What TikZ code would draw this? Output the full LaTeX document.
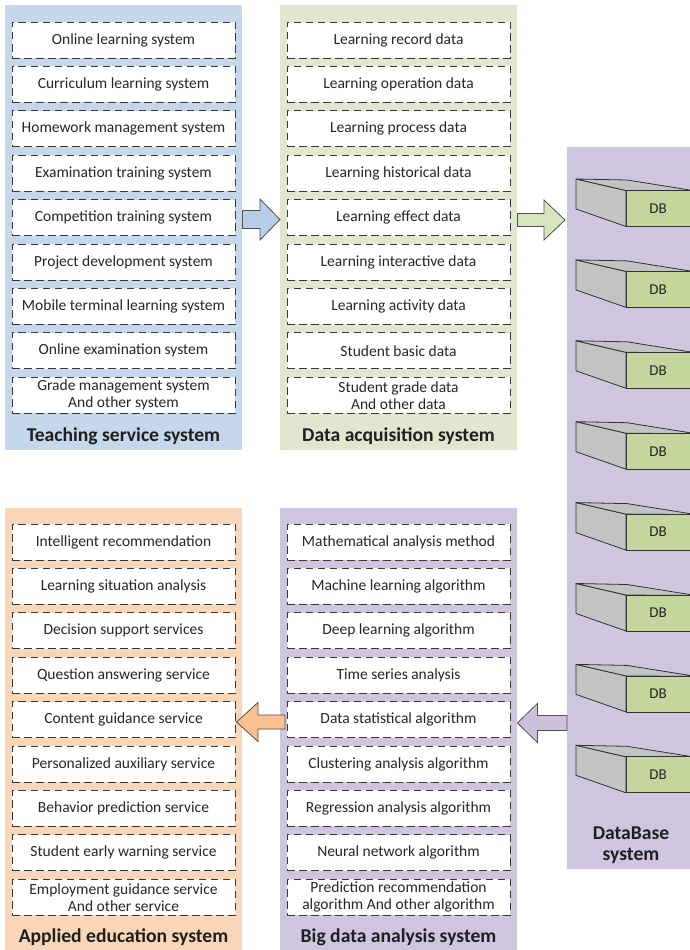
\documentclass[tikz,border=0pt]{standalone}
\usepackage{fontspec}
\setmainfont{Carlito}
\usetikzlibrary{calc}

\definecolor{panelblue}{RGB}{197,215,234}
\definecolor{panelgreen}{RGB}{225,231,206}
\definecolor{panelpurple}{RGB}{206,198,223}
\definecolor{panelorange}{RGB}{249,214,184}
\definecolor{arrowblue}{RGB}{185,205,229}
\definecolor{arrowgreen}{RGB}{215,228,189}
\definecolor{arroworange}{RGB}{250,192,144}
\definecolor{arrowpurple}{RGB}{204,193,218}
\definecolor{arrowline}{RGB}{80,80,80}
\definecolor{itemline}{RGB}{55,55,55}
\definecolor{txt}{RGB}{38,38,38}
\definecolor{dbgray}{RGB}{194,196,196}
\definecolor{dbgreen}{RGB}{196,214,155}
\definecolor{dbline}{RGB}{50,50,50}

\tikzset{
  panel/.style={draw=none, inner sep=0, anchor=north west},
  item/.style={draw=itemline, line width=0.9pt, dash pattern=on 7.5pt off 4.5pt,
    fill=white, minimum width=223, minimum height=36, inner sep=0, align=center,
    text=txt, font=\fontsize{15.5}{17}\selectfont},
  caption/.style={font=\bfseries\fontsize{19.6}{21}\selectfont, text=black!88, align=center},
  blockarrow/.style={fill=#1, draw=arrowline, line width=0.8pt, line join=miter},
  dbface/.style={draw=dbline, line width=0.8pt, line join=round},
  dbtext/.style={text=txt, font=\fontsize{15}{17}\selectfont, inner sep=0},
  dbunit/.pic={
    % side face
    \path[dbface, fill=dbgray] (-50,-29.5) -- (0,-18) -- (0,18) -- (-50,0.5) -- cycle;
    % top face
    \path[dbface, fill=dbgray] (-50,-29.5) -- (1,-28.5) -- (70,-17.5) -- (0,-18) -- cycle;
    % front face
    \path[dbface, fill=dbgreen] (0,-18) rectangle (90,18);
    \node[dbtext] (-lbl) at (32,0) {DB};
  }
}

% block arrow: style colour, tail point, tip point, body half-height, head half-height, signed head length
\newcommand\flowarrow[6]{%
  \path[blockarrow=#1] let \p1=(#2), \p2=(#3) in
    (\x1,{\y2+(#4pt)}) -- ({\x2-(#6pt)},{\y2+(#4pt)}) -- ({\x2-(#6pt)},{\y2+(#5pt)})
    -- (\x2,\y2) -- ({\x2-(#6pt)},{\y2-(#5pt)}) -- ({\x2-(#6pt)},{\y2-(#4pt)})
    -- (\x1,{\y2-(#4pt)}) -- cycle;}

\begin{document}
\begin{tikzpicture}[x=1pt,y=-1pt]
\useasboundingbox (0,0) rectangle (689,950);

% system panels
\node[panel, fill=panelblue, minimum width=237, minimum height=445] (tpanel) at (5,5) {};
\node[panel, fill=panelgreen, minimum width=237, minimum height=445] (dpanel) at (280,5) {};
\node[panel, fill=panelpurple, minimum width=140, minimum height=722] (dbpanel) at (567,147) {};
\node[panel, fill=panelorange, minimum width=237, minimum height=450] (apanel) at (5,508) {};
\node[panel, fill=panelpurple, minimum width=237, minimum height=450] (bpanel) at (280,508) {};

% panel captions
\node[caption] (tcap) at (123.5,436) {Teaching service system};
\node[caption] (dcap) at (398.5,436) {Data acquisition system};
\node[caption] (acap) at (123.5,937) {Applied education system};
\node[caption] (bcap) at (398.5,937) {Big data analysis system};
\node[caption] (dbcap) at (631,845) {DataBase\\system};

% connecting block arrows
\flowarrow{arrowblue}{tpanel.east |- 0,219.5}{dpanel.west |- 0,219.5}{9}{20.5}{20}
\flowarrow{arrowgreen}{dpanel.east |- 0,220}{565,220}{6.5}{20}{21}
\flowarrow{arroworange}{285,722}{236.5,722}{7}{19.5}{-21.5}
\flowarrow{arrowpurple}{dbpanel.west |- 0,723}{bpanel.east |- 0,723}{7.5}{19.5}{-20}

% teaching service items
\foreach \txt [count=\i] in {Online learning system, Curriculum learning system,
  Homework management system, Examination training system, Competition training system,
  Project development system, Mobile terminal learning system, Online examination system,
  {Grade management system\\And other system}}
  \node[item] (t\i) at (123.5,{40+44.4*(\i-1)}) {\txt};

% data acquisition items
\foreach \txt [count=\i] in {Learning record data, Learning operation data,
  Learning process data, Learning historical data, Learning effect data,
  Learning interactive data, Learning activity data, Student basic data,
  {Student grade data\\And other data}}
  \node[item] (d\i) at (398.5,{40+44.4*(\i-1)}) {\txt};

% applied education items
\foreach \txt [count=\i] in {Intelligent recommendation, Learning situation analysis,
  Decision support services, Question answering service, Content guidance service,
  Personalized auxiliary service, Behavior prediction service, Student early warning service,
  {Employment guidance service\\And other service}}
  \node[item] (a\i) at (123.5,{542+44.4*(\i-1)}) {\txt};

% big data analysis items
\foreach \txt [count=\i] in {Mathematical analysis method, Machine learning algorithm,
  Deep learning algorithm, Time series analysis, Data statistical algorithm,
  Clustering analysis algorithm, Regression analysis algorithm, Neural network algorithm,
  {Prediction recommendation\\algorithm And other algorithm}}
  \node[item] (b\i) at (398.5,{542+44.4*(\i-1)}) {\txt};

% database units
\foreach \i in {1,...,8}
  \pic (db\i) at (626,{208.5+80.9*(\i-1)}) {dbunit};

\end{tikzpicture}
\end{document}
